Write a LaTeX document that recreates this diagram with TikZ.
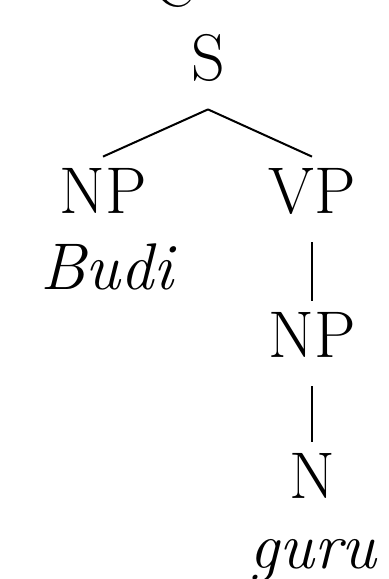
\documentclass[tikz,border=0pt]{standalone}
\usepackage{tikz}

\begin{document}
\begin{tikzpicture}[x=0.5pt, y=-0.5pt,
	cat/.style={font=\fontsize{33}{40}\selectfont, anchor=base, inner sep=5.5pt, text height=22.5pt, text depth=9pt},
	word/.style={font=\fontsize{33}{40}\selectfont\itshape, anchor=base, inner sep=0pt},
	branch/.style={line width=1pt}]
	\useasboundingbox (0,0) rectangle (388,579);

	\node[cat] (cut) at (176,6) {C};
	\node[cat] (s) at (208,80) {S};
	\node[cat] (np) at (103,213) {NP};
	\node[cat] (vp) at (312,213) {VP};
	\node[word] (budi) at (107,289) {Budi};
	\node[cat] (np2) at (312,357) {NP};
	\node[cat] (n) at (312,498) {N};
	\node[word] (guru) at (313,568) {guru};

	\draw[branch] (s.south) -- (np.north);
	\draw[branch] (s.south) -- (vp.north);
	\draw[branch] (vp.south) -- (np2.north);
	\draw[branch] (np2.south) -- (n.north);
\end{tikzpicture}
\end{document}
